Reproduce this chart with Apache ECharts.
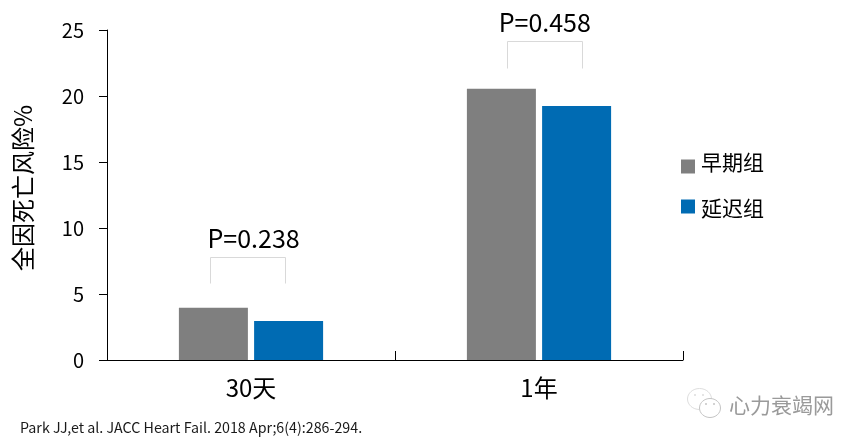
<!DOCTYPE html>
<html><head><meta charset="utf-8">
<style>html,body{margin:0;padding:0;background:#fff}#c{width:860px;height:443px}</style>
<script src="https://cdn.jsdelivr.net/npm/echarts@6/dist/echarts.min.js"></script>
</head><body><div id="c"></div>
<script>
const categories = ['30天', '1年'];
const earlyValues = [3.95, 20.55];
const delayedValues = [2.95, 19.25];
const seriesNames = ['早期组', '延迟组'];
const yAxisName = '全因死亡风险%';
const brackets = [
  {left: 0.359, right: 0.618, top: 7.8, bottom: 5.85, label: 'P=0.238', labelX: 0.509, labelY: 9.2},
  {left: 1.39, right: 1.649, top: 24.2, bottom: 22.15, label: 'P=0.458', labelX: 1.52, labelY: 25.6}
];
const citation = 'Park JJ,et al. JACC Heart Fail. 2018 Apr;6(4):286-294.';
const watermark = '心力衰竭网';
const FONT = '"Noto Sans CJK SC","Noto Sans",sans-serif';

const legendBase = {
  orient: 'vertical', left: 681, padding: 0, itemWidth: 14, itemHeight: 14, icon: 'rect', formatter: '{a|{name}}'
};
const legendText = (padding) => ({
  color: '#000', fontFamily: FONT, fontSize: 21,
  rich: {a: {fontSize: 21, color: '#000', fontFamily: FONT, lineHeight: 22, padding}}
});
const chart = echarts.init(document.getElementById('c'), null, {renderer: 'canvas'});
chart.setOption({
  animation: false,
  backgroundColor: '#fff',
  textStyle: {fontFamily: FONT},
  grid: {left: 107, top: 30, width: 576, height: 330, containLabel: false},
  legend: [
    Object.assign({}, legendBase, {top: 152, data: [seriesNames[0]], textStyle: legendText([0, 0, 8, 1])}),
    Object.assign({}, legendBase, {top: 194, data: [seriesNames[1]], textStyle: legendText([4, 0, 0, 1])})
  ],
  xAxis: [
    {type: 'category', data: categories,
     axisLine: {lineStyle: {color: '#000', width: 1}},
     axisTick: {show: true, inside: true, length: 9, lineStyle: {color: '#000'}},
     axisLabel: {fontSize: 24, color: '#000', margin: 16, fontFamily: FONT}},
    {type: 'value', min: 0, max: 2, show: false}
  ],
  yAxis: {
    type: 'value', min: 0, max: 25, interval: 5,
    name: yAxisName, nameLocation: 'middle', nameGap: 72, nameRotate: 90,
    nameTextStyle: {fontSize: 24, color: '#000', fontFamily: FONT, padding: [0, 0, 0, 14]},
    axisLine: {show: true, lineStyle: {color: '#000', width: 1}},
    axisTick: {show: true, length: 8, lineStyle: {color: '#000'}},
    axisLabel: {fontSize: 20, color: '#000', margin: 23, fontFamily: FONT},
    splitLine: {show: false}
  },
  series: [
    {name: seriesNames[0], type: 'bar', data: earlyValues, barWidth: 69, barGap: '9%', itemStyle: {color: '#7f7f7f'}},
    {name: seriesNames[1], type: 'bar', data: delayedValues, barWidth: 69, barGap: '9%', itemStyle: {color: '#006bb3'}},
    {type: 'custom', xAxisIndex: 1, yAxisIndex: 0, silent: true, clip: false,
     data: brackets.map(b => [b.left, b.right, b.top, b.bottom, b.labelX, b.labelY, b.label]),
     encode: {x: [0, 1, 4], y: [2, 3, 5]},
     renderItem(params, api) {
       const l = api.coord([api.value(0), api.value(2)]);
       const r = api.coord([api.value(1), api.value(3)]);
       const t = api.coord([api.value(4), api.value(5)]);
       const sx = v => Math.round(v) + 0.5;
       return {type: 'group', children: [
         {type: 'polyline', shape: {points: [[sx(l[0]), sx(r[1])], [sx(l[0]), sx(l[1])], [sx(r[0]), sx(l[1])], [sx(r[0]), sx(r[1])]]},
          style: {stroke: '#d9d9d9', lineWidth: 1, fill: null}},
         {type: 'text', style: {x: t[0], y: t[1], text: brackets[params.dataIndex].label, fill: '#000',
           font: '25px ' + FONT, textAlign: 'center', textVerticalAlign: 'middle'}}
       ]};
     }}
  ],
  graphic: [
    {type: 'text', left: 20, top: 420, style: {text: citation, fill: '#1a1a1a', font: '14.25px ' + FONT}},
    {type: 'text', left: 729, top: 395, style: {text: watermark, fill: '#9a9a9a', font: '21px ' + FONT}},
    {type: 'ellipse', shape: {cx: 699.5, cy: 399, rx: 12, ry: 10.5}, style: {fill: '#fff', stroke: '#dedede', lineWidth: 1}},
    {type: 'ellipse', shape: {cx: 710, cy: 408, rx: 10.5, ry: 9.5}, style: {fill: '#fff', stroke: '#c4c4c4', lineWidth: 1}},
    {type: 'circle', shape: {cx: 695, cy: 395, r: 1}, style: {fill: '#dcdcdc'}},
    {type: 'circle', shape: {cx: 703, cy: 395, r: 1}, style: {fill: '#dcdcdc'}},
    {type: 'circle', shape: {cx: 706, cy: 404, r: 1}, style: {fill: '#c4c4c4'}},
    {type: 'circle', shape: {cx: 714, cy: 404, r: 1}, style: {fill: '#c4c4c4'}}
  ]
});
</script></body></html>
